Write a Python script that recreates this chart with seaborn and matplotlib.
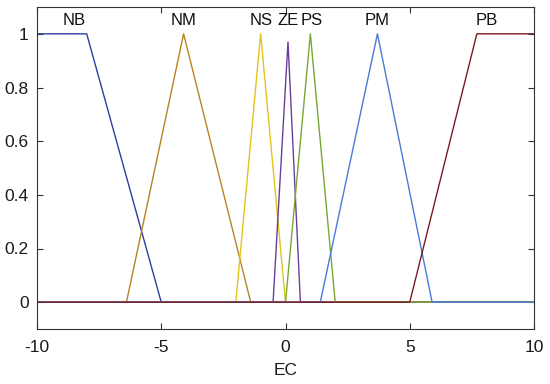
import matplotlib
matplotlib.use("Agg")
import matplotlib.pyplot as plt
import seaborn as sns
import pandas as pd

sns.set_style("white")
plt.rcParams['font.family'] = ['Liberation Sans', 'DejaVu Sans']

# membership function breakpoints (x) and grades (y)
names = ["NB", "NM", "NS", "ZE", "PS", "PM", "PB"]
nb_x = [-10, -8, -5, 10];        nb_y = [1, 1, 0, 0]
nm_x = [-10, -6.4, -4.1, -1.4, 10]; nm_y = [0, 0, 1, 0, 0]
ns_x = [-10, -2, -1, 0, 10];      ns_y = [0, 0, 1, 0, 0]
ze_x = [-10, -0.5, 0.1, 0.6, 10]; ze_y = [0, 0, 0.97, 0, 0]
ps_x = [-10, 0, 1, 2, 10];        ps_y = [0, 0, 1, 0, 0]
pm_x = [-10, 1.4, 3.7, 5.9, 10];  pm_y = [0, 0, 1, 0, 0]
pb_x = [-10, 5, 7.7, 10];         pb_y = [0, 0, 1, 1]
label_x = [-8.5, -4.1, -1.0, 0.55, 0.6, 3.7, 8.1]
label_ha = ["center", "center", "center", "right", "left", "center", "center"]
xticks = [-10, -5, 0, 5, 10]
yticks = [0, 0.2, 0.4, 0.6, 0.8, 1]

colors = ["#2b3f9c", "#b8821f", "#e2c41c", "#6a3d9a", "#78a832", "#4a7ad8", "#7a1a22"]
series = [(nb_x, nb_y), (nm_x, nm_y), (ns_x, ns_y), (ze_x, ze_y),
          (ps_x, ps_y), (pm_x, pm_y), (pb_x, pb_y)]

fig = plt.figure(figsize=(5.5, 3.84), dpi=100)
ax = fig.add_axes([37/550, 55/384, 497/550, 322/384])

for (xs, ys), c, n in zip(series, colors, names):
    df = pd.DataFrame({"x": xs, "y": ys})
    sns.lineplot(data=df, x="x", y="y", ax=ax, color=c, lw=1.0, sort=False,
                 estimator=None, legend=False)

for n, lx, ha in zip(names, label_x, label_ha):
    ax.text(lx, 1.05, n, ha=ha, va="center", fontsize=12, color="#111111")

ax.set_xlim(-10, 10)
ax.set_ylim(-0.1, 1.1)
ax.set_xticks(xticks)
ax.set_xticklabels([str(t) for t in xticks])
ax.set_yticks(yticks)
ax.set_yticklabels(["0", "0.2", "0.4", "0.6", "0.8", "1"])
ax.tick_params(direction="in", length=4, width=0.8, colors="#333333",
               labelcolor="#1a1a1a", labelsize=12.5, top=True, right=True,
               bottom=True, left=True)
ax.tick_params(axis="x", pad=8)
ax.tick_params(axis="y", pad=6)
for s in ax.spines.values():
    s.set_color("#333333")
    s.set_linewidth(0.8)
ax.set_xlabel("EC", fontsize=12.5, labelpad=6, color="#1a1a1a")
ax.set_ylabel("")

fig.savefig("out.png", dpi=100)
